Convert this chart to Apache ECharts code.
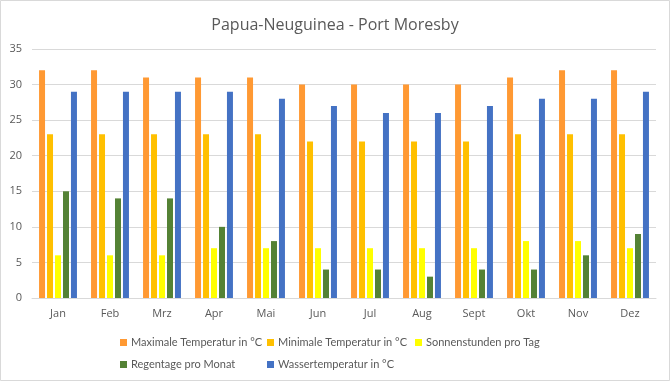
<!DOCTYPE html>
<html><head><meta charset="utf-8">
<script src="https://cdn.jsdelivr.net/npm/echarts@6/dist/echarts.min.js"></script>
<style>html,body{margin:0;padding:0;background:#fff}#c{width:670px;height:381px}</style>
</head><body><div id="c"></div>
<script>
const categories = ['Jan','Feb','Mrz','Apr','Mai','Jun','Jul','Aug','Sept','Okt','Nov','Dez'];
const seriesNames = ['Maximale Temperatur in °C','Minimale Temperatur in °C','Sonnenstunden pro Tag','Regentage pro Monat','Wassertemperatur in °C'];
const maxTemp = [32,32,31,31,31,30,30,30,30,31,32,32];
const minTemp = [23,23,23,23,23,22,22,22,22,23,23,23];
const sunHours = [6,6,6,7,7,7,7,7,7,8,8,7];
const rainDays = [15,14,14,10,8,4,4,3,4,4,6,9];
const waterTemp = [29,29,29,29,28,27,26,26,27,28,28,29];
const yTicks = {min:0,max:35,interval:5};

const colors = ['#FF9933','#FFC000','#FFFF00','#548235','#4472C4'];
const dataSets = [maxTemp,minTemp,sunHours,rainDays,waterTemp];
const font = '"Open Sans", "Noto Sans", sans-serif';
const legendFont = 'Lato, "Open Sans", sans-serif';
const legendPos = [[115,332],[262,332],[410,332],[115,354],[262,354]];

const chart = echarts.init(document.getElementById('c'), null, {renderer:'canvas'});
chart.setOption({
  animation:false,
  backgroundColor:'#fff',
  title:{text:'Papua-Neuguinea - Port Moresby',left:'center',top:12,
    textStyle:{fontFamily:font,fontSize:16,fontWeight:'normal',color:'#595959'}},
  legend: seriesNames.map((n,i)=>({
    data:[n],left:legendPos[i][0],top:legendPos[i][1],
    itemWidth:7,itemHeight:7,itemGap:4,icon:'rect',
    textStyle:{fontFamily:legendFont,fontSize:11,color:'#595959',padding:[0,0,0,-1]},
    selectedMode:false
  })),
  grid:{left:32,right:14,top:49,bottom:83,containLabel:false},
  xAxis:{type:'category',data:categories,
    axisLine:{lineStyle:{color:'#d9d9d9'}},axisTick:{show:false},
    axisLabel:{fontFamily:font,fontSize:11,color:'#595959',margin:10}},
  yAxis:{type:'value',min:yTicks.min,max:yTicks.max,interval:yTicks.interval,
    axisLine:{show:false},axisTick:{show:false},
    splitLine:{lineStyle:{color:'#d9d9d9'}},
    axisLabel:{fontFamily:font,fontSize:11,color:'#595959',margin:10}},
  series: seriesNames.map((n,i)=>({
    name:n,type:'bar',data:dataSets[i],barWidth:6,barGap:'33%',
    itemStyle:{color:colors[i]}
  })),
  graphic:[{type:'rect',shape:{x:0.5,y:0.5,width:669,height:380},
    style:{fill:'none',stroke:'#d9d9d9',lineWidth:1},silent:true}]
});
</script></body></html>
